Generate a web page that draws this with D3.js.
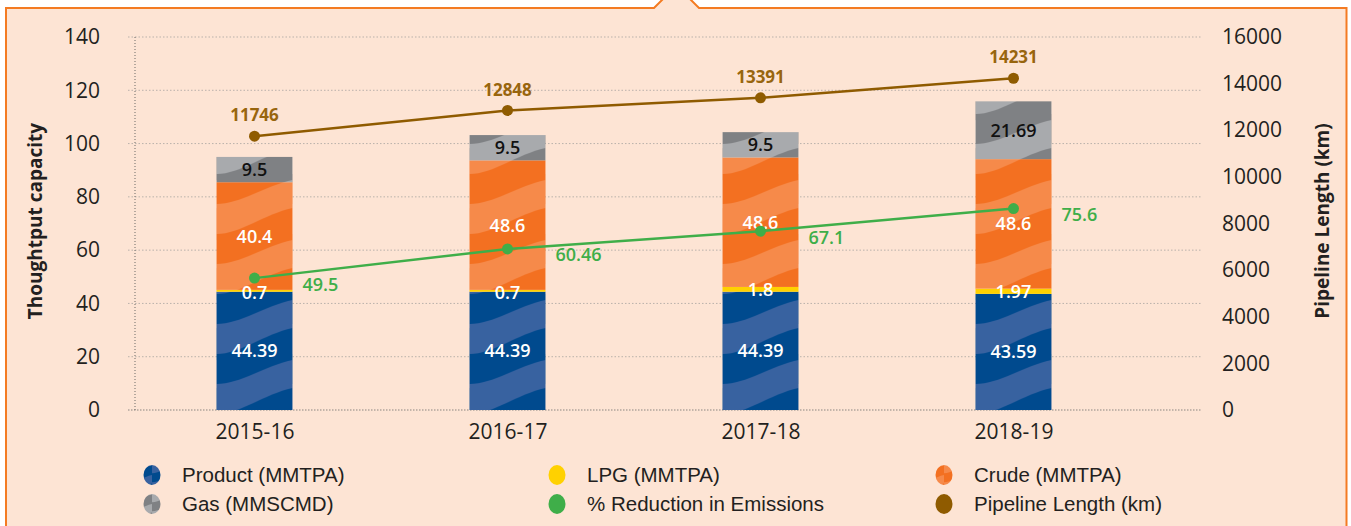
<!DOCTYPE html>
<html>
<head>
<meta charset="utf-8">
<script src="https://cdn.jsdelivr.net/npm/d3@7"></script>
<style>
  body { margin: 0; background: #ffffff; }
  svg { display: block; }
</style>
</head>
<body>
<div id="chart-container"></div>
<script>

// DATA
let years = ['2015-16', '2016-17', '2017-18', '2018-19']
let product = [44.39, 44.39, 44.39, 43.59]
let lpg = [0.7, 0.7, 1.8, 1.97]
let crude = [40.4, 48.6, 48.6, 48.6]
let gas = [9.5, 9.5, 9.5, 21.69]
let emissions = [49.5, 60.46, 67.1, 75.6]
let pipeline = [11746, 12848, 13391, 14231]
let leftTicks = [0, 20, 40, 60, 80, 100, 120, 140]
let rightTicks = [0, 2000, 4000, 6000, 8000, 10000, 12000, 14000, 16000]

let legendItems = [
    {name: 'Product (MMTPA)', key: 'product'},
    {name: 'LPG (MMTPA)', key: 'lpg'},
    {name: 'Crude (MMTPA)', key: 'crude'},
    {name: 'Gas (MMSCMD)', key: 'gas'},
    {name: '% Reduction in Emissions', key: 'green'},
    {name: 'Pipeline Length (km)', key: 'brown'}
]

let colours = {
    product: {dark: '#004a8e', light: '#3862a0'},
    lpg: {dark: '#ffd100', light: '#ffd100'},
    crude: {dark: '#f37021', light: '#f68a4a'},
    gas: {dark: '#7f8184', light: '#a8aaad'},
    green: {dark: '#3fae49', light: '#3fae49'},
    brown: {dark: '#8f5b00', light: '#8f5b00'}
}

let tickFont = "'Open Sans', 'Noto Sans', sans-serif"
let legendFont = "'Liberation Sans', Arial, sans-serif"

let svgWidth = 1351
let svgHeight = 526
let barWidth = 76

let svg = d3.select('#chart-container')
    .append('svg')
        .attr('width', svgWidth)
        .attr('height', svgHeight)

//PATTERNS (wavy diagonal bands)
let defs = svg.append('defs')

function wavePattern(id, key, scale){
    let pat = defs.append('pattern')
        .attr('id', id)
        .attr('patternUnits', 'userSpaceOnUse')
        .attr('width', 76)
        .attr('height', 60)
    if (scale) pat.attr('patternTransform', `scale(${scale})`)
    pat.append('rect')
        .attr('width', 76).attr('height', 60)
        .attr('fill', colours[key].dark)
    ;[-60, 0, 60].forEach(function(off){
        pat.append('path')
            .attr('transform', `translate(0,${off})`)
            .attr('d', 'M0,24 C24,24 48,6 76,0 L76,28 C48,34 24,54 0,54 Z')
            .attr('fill', colours[key].light)
    })
}

;['product', 'crude', 'gas'].forEach(function(k){
    wavePattern('pat-' + k, k)
    wavePattern('leg-' + k, k, 0.3)
})

//PANEL
svg.append('path')
    .attr('d', 'M6,540 V8 H654 L664,-2 H689 L699,8 H1346.5 V540')
    .attr('fill', '#fde4d4')
    .attr('stroke', '#f47b22')
    .attr('stroke-width', 2)

//SCALES
let x = d3.scalePoint()
    .domain(years)
    .range([128, 1140])
    .padding(0.5)

let y = d3.scaleLinear()
    .domain([0, 140])
    .range([410, 37])

let y2 = d3.scaleLinear()
    .domain([0, 16000])
    .range([410, 37])

//GRIDLINES
svg.append('g')
    .selectAll('line')
    .data(leftTicks.slice(1))
    .join('line')
        .attr('x1', 128).attr('x2', 1202)
        .attr('y1', d => y(d)).attr('y2', d => y(d))
        .attr('stroke', '#b9b1aa')
        .attr('stroke-width', 1)
        .attr('stroke-dasharray', '1.5,2')

svg.append('line')
    .attr('x1', 128).attr('x2', 1202)
    .attr('y1', y(0)).attr('y2', y(0))
    .attr('stroke', '#8a8580')
    .attr('stroke-dasharray', '1.5,1.5')

svg.append('line')
    .attr('x1', 135).attr('x2', 135)
    .attr('y1', y(140)).attr('y2', y(0))
    .attr('stroke', '#6d6a67')
    .attr('stroke-dasharray', '1,2')

//LEFT AXIS LABELS
let leftAxis = svg.append('g')
    .attr('transform', 'translate(100,0)')
    .call(d3.axisLeft(y).tickValues(leftTicks).tickSize(0).tickPadding(0))
leftAxis.select('.domain').remove()
leftAxis.selectAll('text')
    .attr('font-family', tickFont)
    .attr('font-size', 21)
    .attr('fill', '#231f20')

//RIGHT AXIS LABELS
let rightAxis = svg.append('g')
    .attr('transform', 'translate(1222,0)')
    .call(d3.axisRight(y2).tickValues(rightTicks).tickFormat(d3.format('d')).tickSize(0).tickPadding(0))
rightAxis.select('.domain').remove()
rightAxis.selectAll('text')
    .attr('font-family', tickFont)
    .attr('font-size', 21)
    .attr('fill', '#231f20')

//X-AXIS LABELS
let bottomAxis = svg.append('g')
    .attr('transform', 'translate(0,424)')
    .call(d3.axisBottom(x).tickSize(0).tickPadding(0))
bottomAxis.select('.domain').remove()
bottomAxis.selectAll('text')
    .attr('font-family', tickFont)
    .attr('font-size', 21)
    .attr('fill', '#231f20')

//AXIS TITLES
svg.append('text')
    .attr('transform', 'translate(42,221) rotate(-90)')
    .attr('text-anchor', 'middle')
    .attr('font-family', tickFont)
    .attr('font-weight', 700)
    .attr('font-size', 19)
    .attr('fill', '#231f20')
    .text('Thoughtput capacity')

svg.append('text')
    .attr('transform', 'translate(1329,221) rotate(-90)')
    .attr('text-anchor', 'middle')
    .attr('font-family', tickFont)
    .attr('font-weight', 700)
    .attr('font-size', 19)
    .attr('fill', '#231f20')
    .text('Pipeline Length (km)')

//STACKED BARS
let rows = years.map(function(yr, i){
    return {year: yr, product: product[i], lpg: lpg[i], crude: crude[i], gas: gas[i]}
})
let keys = ['product', 'lpg', 'crude', 'gas']
let stacked = d3.stack().keys(keys)(rows)

let barGroups = svg.append('g')
    .selectAll('g')
    .data(rows)
    .join('g')
        .attr('transform', d => `translate(${x(d.year) - barWidth / 2},0)`)

stacked.forEach(function(layer){
    let k = layer.key
    barGroups.append('rect')
        .datum((d, i) => layer[i])
        .attr('x', 0)
        .attr('width', barWidth)
        .attr('y', d => y(d[1]))
        .attr('height', d => y(d[0]) - y(d[1]))
        .attr('fill', k == 'lpg' ? colours.lpg.dark : `url(#pat-${k})`)
})

stacked.forEach(function(layer){
    let k = layer.key
    barGroups.append('text')
        .datum((d, i) => layer[i])
        .attr('x', barWidth / 2)
        .attr('y', d => k == 'lpg' ? y(d[1]) + 3 : (y(d[0]) + y(d[1])) / 2)
        .attr('dy', '0.36em')
        .attr('text-anchor', 'middle')
        .attr('font-family', tickFont)
        .attr('font-weight', 600)
        .attr('font-size', 18)
        .attr('fill', k == 'gas' ? '#111111' : '#ffffff')
        .text(d => d.data[k])
})

//EMISSIONS LINE
let greenLine = d3.line()
    .x((d, i) => x(years[i]))
    .y(d => y(d))

svg.append('path')
    .datum(emissions)
    .attr('d', greenLine)
    .attr('fill', 'none')
    .attr('stroke', colours.green.dark)
    .attr('stroke-width', 2.5)

svg.append('g')
    .selectAll('circle')
    .data(emissions)
    .join('circle')
        .attr('cx', (d, i) => x(years[i]))
        .attr('cy', d => y(d))
        .attr('r', 5.5)
        .attr('fill', colours.green.dark)

svg.append('g')
    .selectAll('text')
    .data(emissions)
    .join('text')
        .attr('x', (d, i) => x(years[i]) + 48)
        .attr('y', d => y(d) + 6)
        .attr('dy', '0.36em')
        .attr('font-family', tickFont)
        .attr('font-weight', 600)
        .attr('font-size', 18)
        .attr('fill', colours.green.dark)
        .text(d => d)

//PIPELINE LINE
let brownLine = d3.line()
    .x((d, i) => x(years[i]))
    .y(d => y2(d))

svg.append('path')
    .datum(pipeline)
    .attr('d', brownLine)
    .attr('fill', 'none')
    .attr('stroke', colours.brown.dark)
    .attr('stroke-width', 2.5)

svg.append('g')
    .selectAll('circle')
    .data(pipeline)
    .join('circle')
        .attr('cx', (d, i) => x(years[i]))
        .attr('cy', d => y2(d))
        .attr('r', 5.5)
        .attr('fill', colours.brown.dark)

svg.append('g')
    .selectAll('text')
    .data(pipeline)
    .join('text')
        .attr('x', (d, i) => x(years[i]))
        .attr('y', d => y2(d) - 21)
        .attr('dy', '0.36em')
        .attr('text-anchor', 'middle')
        .attr('font-family', tickFont)
        .attr('font-weight', 700)
        .attr('font-size', 17)
        .attr('fill', '#98650e')
        .text(d => d)

//LEGEND
let legendCols = [152, 557, 944]
let legendRows = [475, 504]

let legend = svg.append('g')
    .selectAll('g')
    .data(legendItems)
    .join('g')
        .attr('transform', (d, i) => `translate(${legendCols[i % 3]},${legendRows[Math.floor(i / 3)]})`)

legend.append('ellipse')
    .attr('rx', 8.5)
    .attr('ry', 10)
    .attr('fill', d => colours[d.key].light == colours[d.key].dark ? colours[d.key].dark : `url(#leg-${d.key})`)

legend.append('text')
    .attr('x', 30)
    .attr('dy', '0.35em')
    .attr('font-family', legendFont)
    .attr('font-size', 20.5)
    .attr('fill', '#231f20')
    .text(d => d.name)

</script>
</body>
</html>
